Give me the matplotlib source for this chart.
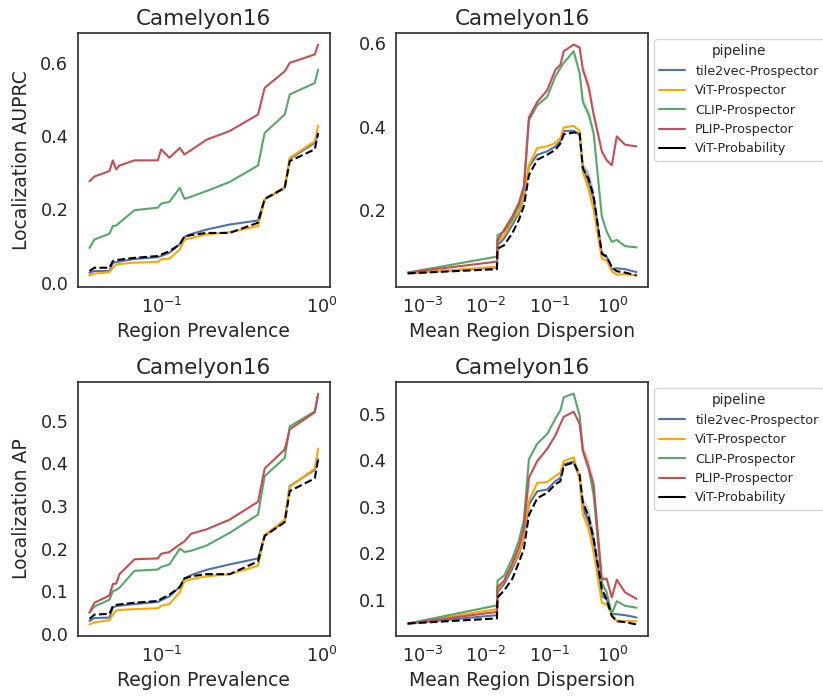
import matplotlib
matplotlib.use("Agg")
import matplotlib.pyplot as plt
import seaborn as sns
import numpy as np

sns.set_style("white")
plt.rcParams["font.family"] = ["DejaVu Sans"]

pipelines = ["tile2vec-Prospector", "ViT-Prospector", "CLIP-Prospector",
             "PLIP-Prospector", "ViT-Probability"]
colors = ["#4C72B0", "#FFA500", "#55A868", "#C44E52", "black"]
styles = ["-", "-", "-", "-", "--"]

# region prevalence (x) for the left panels
prevalence = [0.0355, 0.0381, 0.0473, 0.0497, 0.0521, 0.0546, 0.0678, 0.0948, 0.0995,
              0.112, 0.130, 0.139, 0.153, 0.190, 0.266, 0.400, 0.44, 0.587, 0.631,
              0.904, 0.948]

prev_auprc = {
    "tile2vec-Prospector": [0.027, 0.032, 0.032, 0.055, 0.056, 0.058, 0.065, 0.07, 0.073, 0.082, 0.105,
                            0.125, 0.133, 0.145, 0.159, 0.17, 0.227, 0.259, 0.338, 0.382, 0.405],
    "ViT-Prospector": [0.02, 0.025, 0.029, 0.041, 0.05, 0.051, 0.055, 0.057, 0.064, 0.066, 0.091,
                       0.118, 0.122, 0.132, 0.138, 0.155, 0.227, 0.262, 0.341, 0.386, 0.429],
    "CLIP-Prospector": [0.095, 0.118, 0.134, 0.155, 0.156, 0.164, 0.198, 0.205, 0.216, 0.221, 0.259,
                        0.229, 0.235, 0.25, 0.275, 0.32, 0.409, 0.459, 0.514, 0.545, 0.582],
    "PLIP-Prospector": [0.277, 0.29, 0.305, 0.334, 0.309, 0.32, 0.334, 0.334, 0.364, 0.341, 0.368,
                        0.35, 0.362, 0.39, 0.414, 0.459, 0.532, 0.577, 0.6, 0.623, 0.65],
    "ViT-Probability": [0.032, 0.041, 0.041, 0.059, 0.062, 0.063, 0.068, 0.073, 0.077, 0.086, 0.105,
                        0.127, 0.13, 0.136, 0.136, 0.164, 0.229, 0.259, 0.332, 0.364, 0.409],
}

prev_ap = {
    "tile2vec-Prospector": [0.03, 0.037, 0.038, 0.062, 0.065, 0.066, 0.07, 0.075, 0.079, 0.088, 0.11,
                            0.13, 0.138, 0.15, 0.163, 0.177, 0.23, 0.265, 0.347, 0.385, 0.41],
    "ViT-Prospector": [0.022, 0.027, 0.032, 0.045, 0.055, 0.056, 0.058, 0.06, 0.066, 0.07, 0.098,
                       0.124, 0.128, 0.135, 0.14, 0.16, 0.232, 0.268, 0.345, 0.388, 0.435],
    "CLIP-Prospector": [0.05, 0.064, 0.08, 0.1, 0.103, 0.108, 0.148, 0.151, 0.157, 0.163, 0.2,
                        0.192, 0.195, 0.207, 0.237, 0.28, 0.37, 0.413, 0.487, 0.522, 0.564],
    "PLIP-Prospector": [0.05, 0.073, 0.09, 0.117, 0.118, 0.14, 0.175, 0.177, 0.188, 0.192, 0.21,
                        0.217, 0.235, 0.245, 0.268, 0.31, 0.388, 0.433, 0.48, 0.52, 0.562],
    "ViT-Probability": [0.035, 0.045, 0.047, 0.065, 0.068, 0.069, 0.073, 0.077, 0.082, 0.092, 0.11,
                        0.13, 0.135, 0.14, 0.14, 0.17, 0.23, 0.262, 0.335, 0.365, 0.41],
}

# mean region dispersion (x) for the right panels
dispersion = [0.00058, 0.0148, 0.0151, 0.0192, 0.0259, 0.033, 0.0395, 0.0473, 0.064, 0.092,
              0.124, 0.149, 0.168, 0.241, 0.299, 0.337, 0.415, 0.497, 0.671, 0.80, 0.964,
              1.156, 1.56, 2.37]

disp_auprc = {
    "tile2vec-Prospector": [0.05, 0.064, 0.117, 0.133, 0.166, 0.194, 0.231, 0.304, 0.333, 0.341, 0.353, 0.365,
                            0.39, 0.39, 0.381, 0.3, 0.268, 0.227, 0.097, 0.09, 0.06, 0.062, 0.06, 0.053],
    "ViT-Prospector": [0.05, 0.066, 0.125, 0.141, 0.174, 0.198, 0.235, 0.308, 0.349, 0.353, 0.361, 0.373,
                       0.398, 0.402, 0.39, 0.292, 0.251, 0.202, 0.085, 0.081, 0.055, 0.047, 0.048, 0.045],
    "CLIP-Prospector": [0.052, 0.09, 0.141, 0.15, 0.178, 0.211, 0.251, 0.415, 0.451, 0.471, 0.52, 0.54,
                        0.552, 0.58, 0.528, 0.459, 0.43, 0.385, 0.186, 0.15, 0.125, 0.13, 0.115, 0.112],
    "PLIP-Prospector": [0.052, 0.078, 0.129, 0.154, 0.186, 0.219, 0.259, 0.422, 0.459, 0.487, 0.536, 0.548,
                        0.58, 0.596, 0.589, 0.536, 0.495, 0.43, 0.341, 0.32, 0.308, 0.377, 0.357, 0.353],
    "ViT-Probability": [0.05, 0.06, 0.109, 0.117, 0.146, 0.178, 0.211, 0.284, 0.321, 0.333, 0.345, 0.36,
                        0.382, 0.386, 0.386, 0.3, 0.276, 0.235, 0.097, 0.09, 0.065, 0.055, 0.052, 0.045],
}

disp_ap = {
    "tile2vec-Prospector": [0.049, 0.067, 0.116, 0.134, 0.167, 0.199, 0.232, 0.304, 0.333, 0.337, 0.355, 0.362,
                            0.391, 0.397, 0.362, 0.297, 0.268, 0.225, 0.109, 0.101, 0.069, 0.069, 0.067, 0.062],
    "ViT-Prospector": [0.049, 0.08, 0.12, 0.14, 0.174, 0.203, 0.236, 0.312, 0.351, 0.353, 0.366, 0.373,
                       0.398, 0.406, 0.359, 0.283, 0.254, 0.203, 0.094, 0.09, 0.069, 0.054, 0.054, 0.054],
    "CLIP-Prospector": [0.049, 0.088, 0.141, 0.152, 0.189, 0.228, 0.272, 0.402, 0.435, 0.456, 0.489, 0.507,
                        0.535, 0.543, 0.496, 0.42, 0.384, 0.326, 0.137, 0.116, 0.07, 0.097, 0.087, 0.083],
    "PLIP-Prospector": [0.049, 0.074, 0.127, 0.141, 0.178, 0.214, 0.254, 0.362, 0.398, 0.424, 0.453, 0.478,
                        0.493, 0.504, 0.478, 0.42, 0.384, 0.348, 0.145, 0.145, 0.105, 0.143, 0.116, 0.102],
    "ViT-Probability": [0.049, 0.06, 0.105, 0.12, 0.145, 0.181, 0.21, 0.282, 0.318, 0.33, 0.348, 0.355,
                        0.388, 0.395, 0.369, 0.308, 0.279, 0.232, 0.123, 0.101, 0.065, 0.054, 0.052, 0.047],
}

# half-width of the confidence band (visible only past the peak)
disp_spread = [0, 0, 0, 0, 0, 0, 0, 0, 0, 0, 0, 0,
               0, 0, 0.004, 0.012, 0.018, 0.015, 0.006, 0.003, 0, 0, 0, 0]


def draw(ax, x, data, xlabel, ylabel=None, spread=None, legend=False):
    for name, c, ls in zip(pipelines, colors, styles):
        y = np.array(data[name])
        ax.plot(x, y, color=c, ls=ls, lw=1.5, label=name)
        if spread is not None:
            s = np.array(spread)
            ax.fill_between(x, y - s, y + s, color=c, alpha=0.2, lw=0)
    ax.set_xscale("log")
    ax.set_title("Camelyon16", fontsize=15.5)
    ax.set_xlabel(xlabel, fontsize=13.5)
    if ylabel:
        ax.set_ylabel(ylabel, fontsize=13.5, labelpad=7)
    ax.tick_params(labelsize=12.7)
    for sp in ax.spines.values():
        sp.set_edgecolor("0.2")
        sp.set_linewidth(1.25)
    if legend:
        leg = ax.legend(title="pipeline", loc="upper left", bbox_to_anchor=(1, 1),
                        fontsize=9.2, title_fontsize=9.8)
        for h in leg.get_lines():
            h.set_linestyle("-")


fig, axes = plt.subplots(2, 2, figsize=(8.23, 6.96), dpi=100)
fig.subplots_adjust(left=0.0948, right=0.7873, top=0.9526, bottom=0.0862,
                    wspace=0.266, hspace=0.374)

draw(axes[0, 0], prevalence, prev_auprc, "Region Prevalence", "Localization AUPRC")
draw(axes[0, 1], dispersion, disp_auprc, "Mean Region Dispersion", spread=disp_spread, legend=True)
draw(axes[1, 0], prevalence, prev_ap, "Region Prevalence", "Localization AP")
draw(axes[1, 1], dispersion, disp_ap, "Mean Region Dispersion", spread=disp_spread, legend=True)

axes[0, 0].set_yticks([0.0, 0.2, 0.4, 0.6])
axes[0, 1].set_yticks([0.2, 0.4, 0.6])
axes[1, 0].set_yticks([0.0, 0.1, 0.2, 0.3, 0.4, 0.5])
axes[1, 1].set_yticks([0.1, 0.2, 0.3, 0.4, 0.5])
for ax in axes[:, 1]:
    ax.set_xticks([1e-3, 1e-2, 1e-1, 1e0])

plt.savefig("out.png", dpi=100)
plt.close()
